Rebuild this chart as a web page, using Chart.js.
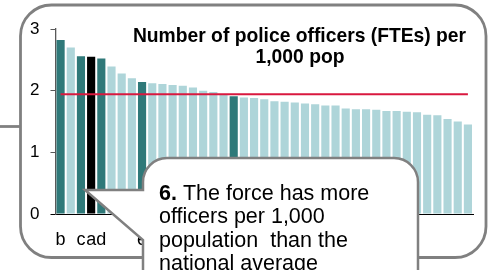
<!DOCTYPE html>
<html>
<head>
<meta charset="utf-8">
<script src="https://cdn.jsdelivr.net/npm/chart.js@4"></script>
<style>
  body { margin: 0; background: #fff; }
  #chart { display: block; }
</style>
</head>
<body>
<canvas id="chart" width="495" height="270"></canvas>
<script>
// Officers per 1,000 population, one bar per force (sorted)
const officersPer1000 = [2.82, 2.70, 2.56, 2.55, 2.52, 2.39, 2.28, 2.20, 2.14, 2.12,
    2.11, 2.09, 2.08, 2.05, 2.00, 1.98, 1.93, 1.91, 1.89, 1.88,
    1.86, 1.83, 1.82, 1.81, 1.79, 1.78, 1.76, 1.76, 1.71, 1.70,
    1.70, 1.69, 1.67, 1.67, 1.66, 1.65, 1.61, 1.60, 1.54, 1.50, 1.45];
const forceLabels = ["b", "", "c", "a", "d", "", "", "", "e", "",
    "", "", "", "", "", "", "", "", "", "",
    "", "", "", "", "", "", "", "", "", "",
    "", "", "", "", "", "", "", "", "", "", ""];
const peerBars = [0, 2, 4, 8, 17];
const thisForce = 3;
const nationalAverage = 1.94;
const yTicks = [0, 1, 2, 3];

const titleLines = ["Number of police officers (FTEs) per", "1,000 pop"];
const calloutLines = [["6.", " The force has more"], ["", "officers per 1,000"], ["", "population  than the"], ["", "national average"]];

const FONT = "'Liberation Sans', Arial, sans-serif";
const GREY = "#808080";

const barColors = officersPer1000.map(function(v, i) {
    if (i === thisForce) return "#000000";
    if (peerBars.includes(i)) return "#2f7979";
    return "#aed5d9";
});

function roundRectPath(ctx, x, y, w, h, r) {
    ctx.beginPath();
    ctx.moveTo(x + r, y);
    ctx.arcTo(x + w, y, x + w, y + h, r);
    ctx.arcTo(x + w, y + h, x, y + h, r);
    ctx.arcTo(x, y + h, x, y, r);
    ctx.arcTo(x, y, x + w, y, r);
    ctx.closePath();
}

const decorations = {
    id: "decorations",
    beforeDraw(chart) {
        const ctx = chart.ctx;
        ctx.save();
        ctx.fillStyle = "#fff";
        ctx.fillRect(0, 0, chart.width, chart.height);
        // outer frame
        ctx.strokeStyle = GREY;
        ctx.lineWidth = 2.8;
        roundRectPath(ctx, 20.5, 5, 465.5, 252.5, 31);
        ctx.stroke();
        // connector on the left
        ctx.beginPath();
        ctx.moveTo(0, 126.5);
        ctx.lineTo(20, 126.5);
        ctx.stroke();
        ctx.restore();
    },
    afterDatasetsDraw(chart) {
        const ctx = chart.ctx;
        const x = chart.scales.x, y = chart.scales.y;
        const yy = y.getPixelForValue(nationalAverage);
        ctx.save();
        ctx.strokeStyle = "#d9183f";
        ctx.lineWidth = 2;
        ctx.beginPath();
        ctx.moveTo(x.getPixelForValue(0), yy);
        ctx.lineTo(x.getPixelForValue(officersPer1000.length - 1), yy);
        ctx.stroke();
        ctx.restore();
    },
    afterDraw(chart) {
        const ctx = chart.ctx;
        ctx.save();
        // title
        ctx.fillStyle = "#000";
        ctx.font = "bold 19.3px " + FONT;
        ctx.textAlign = "center";
        ctx.textBaseline = "alphabetic";
        ctx.fillText(titleLines[0], 299.5, 41.5);
        ctx.fillText(titleLines[1], 300, 63);

        // callout box with pointer
        ctx.beginPath();
        ctx.moveTo(85, 190);
        ctx.lineTo(143, 190);
        ctx.lineTo(143, 182);
        ctx.arcTo(143, 158, 167, 158, 24);
        ctx.lineTo(394, 158);
        ctx.arcTo(418, 158, 418, 182, 24);
        ctx.lineTo(418, 300);
        ctx.lineTo(143, 300);
        ctx.lineTo(143, 240);
        ctx.closePath();
        ctx.fillStyle = "#fff";
        ctx.fill();
        ctx.strokeStyle = GREY;
        ctx.lineWidth = 2.5;
        ctx.stroke();

        ctx.fillStyle = "#000";
        ctx.textAlign = "left";
        calloutLines.forEach(function(parts, i) {
            const by = 199.5 + i * 23.5;
            let tx = 159;
            if (parts[0]) {
                ctx.font = "bold 21.5px " + FONT;
                ctx.fillText(parts[0], tx, by);
                tx += ctx.measureText(parts[0]).width;
            }
            ctx.font = "21.5px " + FONT;
            ctx.fillText(parts[1], tx, by);
        });
        ctx.restore();
    }
};

new Chart(document.getElementById("chart"), {
    type: "bar",
    data: {
        labels: forceLabels,
        datasets: [{
            data: officersPer1000,
            backgroundColor: barColors,
            borderWidth: 0,
            categoryPercentage: 1.0,
            barPercentage: 0.8
        }]
    },
    options: {
        responsive: false,
        devicePixelRatio: 1,
        animation: false,
        layout: { padding: { left: 0, right: 22, top: 29, bottom: 0 } },
        plugins: { legend: { display: false }, tooltip: { enabled: false }, title: { display: false } },
        scales: {
            x: {
                grid: { display: false, drawTicks: false },
                border: { display: true, color: "#000", width: 1 },
                ticks: {
                    autoSkip: false, maxRotation: 0, padding: 15, color: "#000",
                    font: { family: FONT, size: 18 }
                },
                afterFit(s) { s.height = 56; }
            },
            y: {
                min: 0, max: 3,
                afterBuildTicks(s) { s.ticks = yTicks.map(v => ({ value: v })); },
                grid: {
                    drawOnChartArea: false, drawTicks: true, tickLength: 5,
                    color: ctx => ctx.tick && ctx.tick.value === 0 ? "#000" : "#595959"
                },
                border: { display: true, color: "#595959", width: 1.3 },
                ticks: { padding: 11, color: "#000", font: { family: FONT, size: 17 } },
                afterFit(s) { s.width = 55.5; }
            }
        }
    },
    plugins: [decorations]
});
</script>
</body>
</html>
